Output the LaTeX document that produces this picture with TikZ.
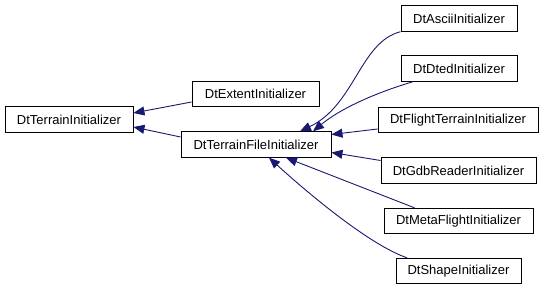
\documentclass[tikz,border=0pt]{standalone}
\usepackage{fontspec}
\setmainfont{Liberation Sans}
\usetikzlibrary{arrows.meta}
\definecolor{edgeblue}{RGB}{25,25,112}

\begin{document}
\begin{tikzpicture}[
  x=1pt, y=-1pt,
  font=\fontsize{13}{15}\selectfont,
  cls/.style={draw,line width=0.9pt,inner sep=0pt,minimum height=25.5pt,fill=white},
  a/.style={-{Triangle[length=11pt,width=9pt]},edgeblue,line width=0.9pt},
]
  \useasboundingbox (0,0) rectangle (544,291);

  \node[cls,minimum width=128pt] (init)   at (69,119.5)  {DtTerrainInitializer};
  \node[cls,minimum width=127pt] (ext)    at (255.5,94)  {DtExtentInitializer};
  \node[cls,minimum width=150pt] (file)   at (256,144.5) {DtTerrainFileInitializer};
  \node[cls,minimum width=116pt] (ascii)  at (459,18.5)  {DtAsciiInitializer};
  \node[cls,minimum width=116pt] (dted)   at (459,68.5)  {DtDtedInitializer};
  \node[cls,minimum width=160pt] (flight) at (458,120)   {DtFlightTerrainInitializer};
  \node[cls,minimum width=155pt] (gdb)    at (458.5,170.5) {DtGdbReaderInitializer};
  \node[cls,minimum width=149pt] (meta)   at (458.5,221) {DtMetaFlightInitializer};
  \node[cls,minimum width=125pt] (shape)  at (458.5,271) {DtShapeInitializer};

  % base class
  \draw[a] ([yshift=-8pt]ext.west) -- ([yshift=6.5pt]init.east);
  \draw[a] ([yshift=7.5pt]file.west) -- ([yshift=-7.5pt]init.east);

  % terrain file readers
  \draw[a] (ascii.south west) .. controls (360,42) and (355,105) .. ([xshift=44pt]file.north);
  \draw[a] ([xshift=-46pt]dted.south) .. controls (385,90) and (345,105) .. ([xshift=57pt]file.north);
  \draw[a] ([yshift=-9pt]flight.west) -- ([yshift=10pt]file.east);
  \draw[a] ([yshift=10pt]gdb.west) -- ([yshift=-8pt]file.east);
  \draw[a] ([xshift=-44pt]meta.north) -- ([xshift=30pt]file.south);
  \draw[a] ([xshift=-51.5pt]shape.north) .. controls (370,245) and (310,195) .. ([xshift=13pt]file.south);
\end{tikzpicture}
\end{document}
